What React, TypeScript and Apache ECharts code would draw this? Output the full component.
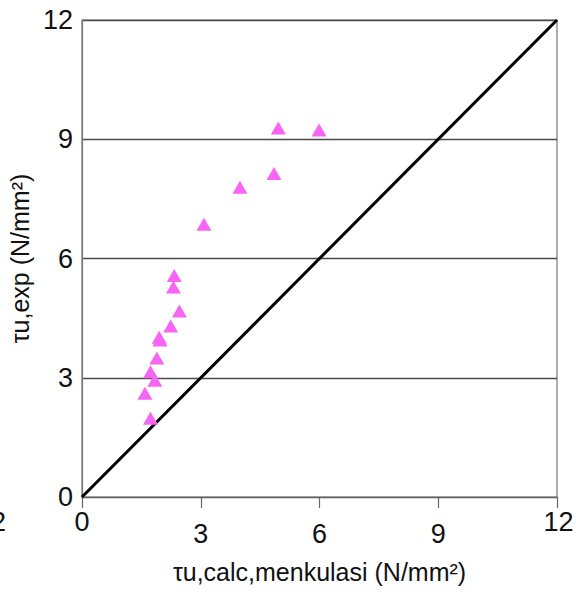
import React, { useEffect, useRef } from "react";
import * as echarts from "echarts";

const xCalc = [4.96, 5.99, 4.85, 3.99, 3.08, 2.33, 2.31, 2.46, 2.24, 1.95, 1.97, 1.89, 1.73, 1.84, 1.59, 1.73];
const yExp = [9.28, 9.23, 8.14, 7.79, 6.86, 5.57, 5.28, 4.68, 4.30, 4.02, 3.95, 3.50, 3.15, 2.94, 2.61, 1.98];
const lineX = [0, 12];
const lineY = [0, 12];
const edgeTicks = [0, 12];
const midTicks = [3, 6, 9];

export default function App() {
  const ref = useRef<HTMLDivElement>(null);
  useEffect(() => {
    const chart = echarts.init(ref.current!, null, { renderer: "svg" });
    const font = "'Liberation Sans', Arial, sans-serif";
    chart.setOption({
      animation: false,
      backgroundColor: "#ffffff",
      textStyle: { fontFamily: font },
      grid: {
        left: 82, right: 19, top: 20, bottom: 95, show: true,
        borderColor: "#777", borderWidth: 1.2,
        outerBoundsMode: "none", containLabel: false,
      },
      xAxis: [
        {
          type: "value", min: 0, max: 12, interval: 3,
          name: "τu,calc,menkulasi (N/mm²)",
          nameLocation: "middle", nameGap: 62,
          nameTextStyle: { fontSize: 25, color: "#111", fontFamily: font },
          axisLine: { show: true, lineStyle: { color: "#666", width: 1.2 } },
          axisTick: { show: false },
          splitLine: { show: false },
          axisLabel: {
            margin: 11, fontSize: 27, color: "#111", fontFamily: font,
            formatter: (v: number) => (edgeTicks.includes(v) ? (v === 12 ? "{r|12}" : String(v)) : ""),
            rich: { r: { fontSize: 27, padding: [0, 0, 0, 3], color: "#111", fontFamily: font } },
          },
        },
        {
          type: "value", min: 0, max: 12, interval: 3, position: "bottom",
          axisLine: { show: false },
          axisTick: {
            show: true, length: 11, inside: false,
            lineStyle: { color: "#666", width: 1.2 },
            interval: (_i: number, v: any) => midTicks.includes(Number(v)),
          },
          splitLine: { show: false },
          axisLabel: {
            margin: 23, fontSize: 27, color: "#111", fontFamily: font,
            formatter: (v: number) => (midTicks.includes(v) ? String(v) : ""),
          },
        },
      ],
      yAxis: {
        type: "value", min: 0, max: 12, interval: 3,
        name: "τu,exp (N/mm²)",
        nameLocation: "middle", nameGap: 29, nameRotate: 90,
        nameTextStyle: { fontSize: 25, color: "#111", fontFamily: font },
        axisLine: { show: true, lineStyle: { color: "#777", width: 1.2 } },
        axisTick: { show: false },
        axisLabel: { margin: 9, fontSize: 27, color: "#111", fontFamily: font },
        splitLine: { show: true, lineStyle: { color: "#4a4a4a", width: 1.3 } },
      },
      graphic: [
        { type: "text", x: 6, y: 522, style: { text: "12", fontSize: 27, fill: "#111", fontFamily: font, align: "right", verticalAlign: "middle" } },
      ],
      series: [
        {
          type: "line",
          data: lineX.map((x, i) => [x, lineY[i]]),
          symbol: "none",
          lineStyle: { color: "#000", width: 3 },
          z: 3,
        },
        {
          type: "scatter",
          data: xCalc.map((x, i) => [x, yExp[i]]),
          symbol: "triangle",
          symbolSize: [15, 13],
          itemStyle: { color: "#f765f5", opacity: 1 },
          z: 4,
        },
      ],
    });
    return () => chart.dispose();
  }, []);
  return <div ref={ref} style={{ width: 576, height: 592, position: "absolute", left: 0, top: 0 }} />;
}
